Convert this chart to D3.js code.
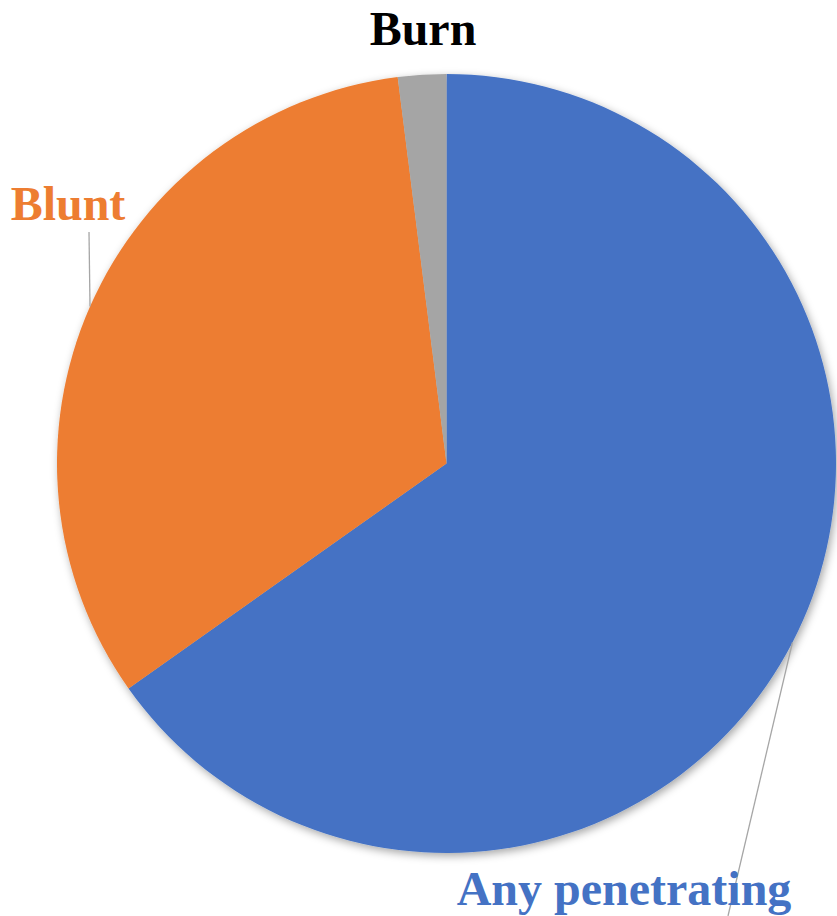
<!DOCTYPE html>
<html>
<head>
<meta charset="utf-8">
<script src="https://cdn.jsdelivr.net/npm/d3@7"></script>
<style>
  html, body { margin: 0; padding: 0; background: #fff; }
  svg { display: block; }
</style>
</head>
<body>
<svg id="chart" width="837" height="916"></svg>
<script>
// Data
const categories = ["Any penetrating", "Blunt", "Burn"];
const values = [65.2, 32.8, 2.0];
const colors = ["#4472C4", "#ED7D31", "#A5A5A5"];
const labelColors = ["#4472C4", "#ED7D31", "#000000"];

// Layout
const W = 837, H = 916;
const cx = 446.5, cy = 463.5, R = 389.5;
// label anchor positions (text anchor point, baseline)
const labelPos = [
  { x: 624, y: 905, anchor: "middle" },
  { x: 68, y: 220, anchor: "middle" },
  { x: 423, y: 45, anchor: "middle" }
];
// leader end points (layout)
const leaderEnd = [
  { x: 728, y: 916 },
  { x: 89, y: 232 },
  null
];

const svg = d3.select("#chart");
const defs = svg.append("defs");
const f = defs.append("filter").attr("id", "shadow")
  .attr("x", "-10%").attr("y", "-10%").attr("width", "120%").attr("height", "120%");
f.append("feDropShadow").attr("dx", 2).attr("dy", 3).attr("stdDeviation", 4)
  .attr("flood-color", "#000").attr("flood-opacity", 0.35);

const pie = d3.pie().sort(null).value(d => d.v).startAngle(0).endAngle(2 * Math.PI);
const data = categories.map((c, i) => ({ c, v: values[i], i }));
const arcs = pie(data);
const arc = d3.arc().innerRadius(0).outerRadius(R);

const g = svg.append("g").attr("transform", `translate(${cx},${cy})`);
g.append("g").attr("filter", "url(#shadow)")
  .selectAll("path").data(arcs).join("path")
  .attr("d", arc)
  .attr("fill", d => colors[d.data.i]);

// leader lines
arcs.forEach(a => {
  const e = leaderEnd[a.data.i];
  if (!e) return;
  const mid = (a.startAngle + a.endAngle) / 2;
  const sx = cx + R * Math.sin(mid);
  const sy = cy - R * Math.cos(mid);
  svg.append("line")
    .attr("x1", sx).attr("y1", sy)
    .attr("x2", e.x).attr("y2", e.y)
    .attr("stroke", "#A6A6A6").attr("stroke-width", 1.3);
});

// labels
svg.selectAll("text.lbl").data(arcs).join("text")
  .attr("class", "lbl")
  .attr("x", d => labelPos[d.data.i].x)
  .attr("y", d => labelPos[d.data.i].y)
  .attr("text-anchor", d => labelPos[d.data.i].anchor)
  .attr("font-family", "'Liberation Serif', 'Times New Roman', serif")
  .attr("font-weight", "bold")
  .attr("font-size", 48)
  .attr("fill", d => labelColors[d.data.i])
  .text(d => d.data.c);
</script>
</body>
</html>
